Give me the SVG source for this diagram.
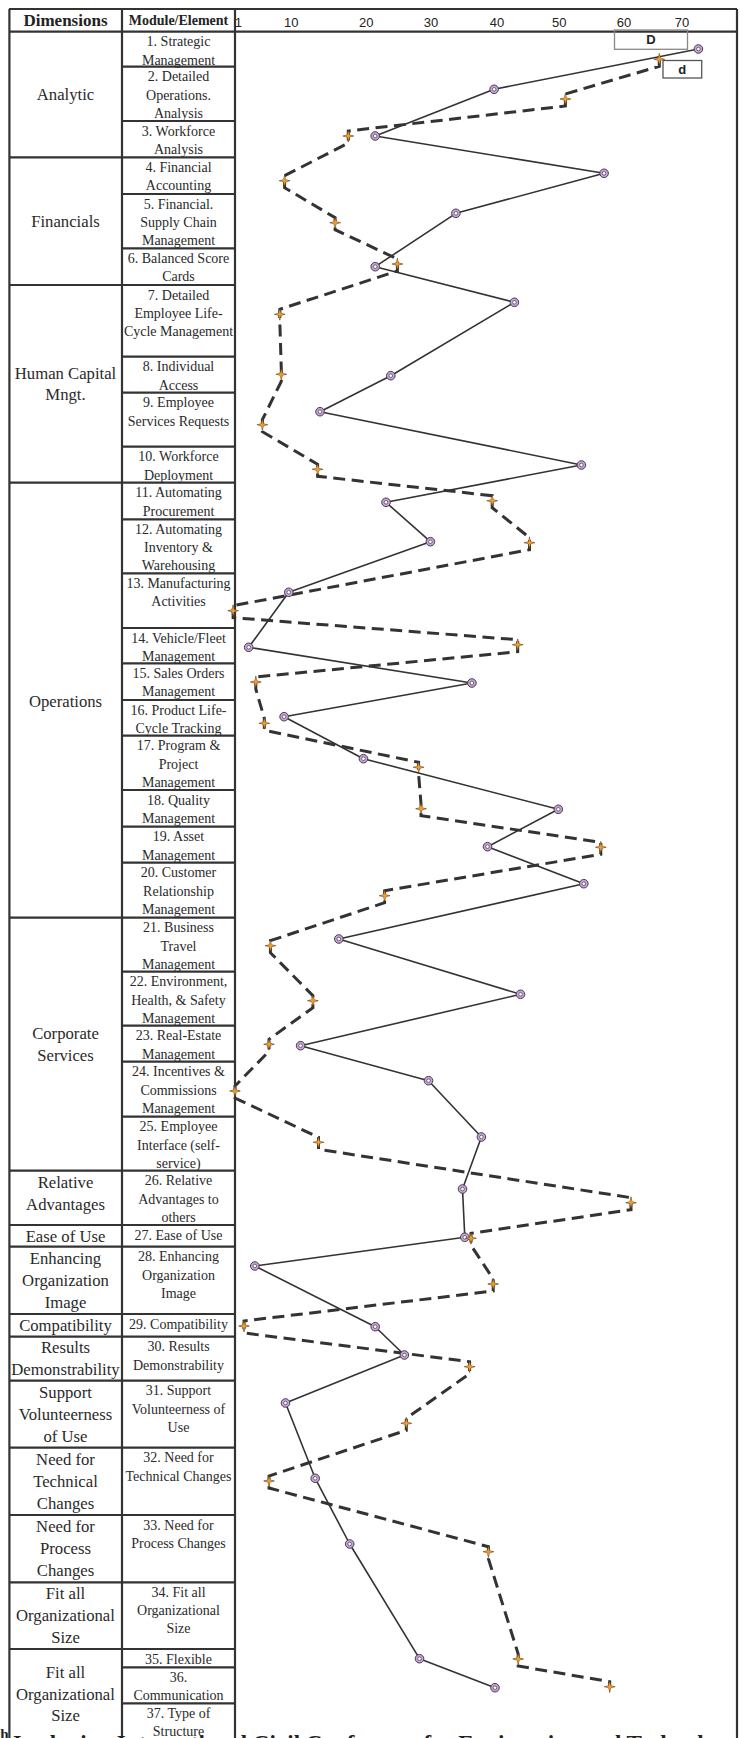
<svg xmlns="http://www.w3.org/2000/svg" xmlns:xlink="http://www.w3.org/1999/xlink" width="740" height="1738" viewBox="0 0 740 1738">
<style>
.gl{stroke:#333;stroke-width:2.2;fill:none}
.dim{font-family:"Liberation Serif","Times New Roman",serif;font-size:16.7px;fill:#2a2a2a;text-anchor:middle}
.mod{font-family:"Liberation Serif","Times New Roman",serif;font-size:14px;fill:#2a2a2a;text-anchor:middle}
.hd{font-family:"Liberation Serif","Times New Roman",serif;font-weight:bold;fill:#222;text-anchor:middle}
.ax{font-family:"Liberation Sans",Arial,sans-serif;font-size:13px;fill:#222;text-anchor:middle}
.lg{font-family:"Liberation Sans",Arial,sans-serif;font-size:13px;font-weight:bold;fill:#222;text-anchor:middle}
.solid{fill:none;stroke:#333;stroke-width:1.6;stroke-linejoin:round}
.dash{fill:none;stroke:#333;stroke-width:3;stroke-dasharray:12 6.5}
.foot{font-family:"Liberation Serif","Times New Roman",serif;font-weight:bold;fill:#222}
</style>
<defs>
<g id="circ"><circle r="4.3" fill="#c4a6d2" stroke="#4a3a55" stroke-width="1"/><circle r="1.8" fill="#fff" stroke="#4a3a55" stroke-width="0.7"/></g>
<g id="star"><path d="M-5.5,0H5.5M0,-6V6" stroke="#333" stroke-width="0.7"/><path d="M0,-5.5 L1.2,-1.2 L5,0 L1.2,1.2 L0,5.5 L-1.2,1.2 L-5,0 L-1.2,-1.2 Z" fill="#f39a2b" stroke="#5a3a14" stroke-width="0.4"/></g>
</defs>
<rect width="740" height="1738" fill="#fff"/>

<g id="grid">
<line class="gl" x1="9" y1="9" x2="737" y2="9"/>
<line class="gl" x1="9" y1="31.7" x2="737" y2="31.7"/>
<line class="gl" x1="9.4" y1="9" x2="9.4" y2="1738"/>
<line class="gl" x1="122" y1="9" x2="122" y2="1738"/>
<line class="gl" x1="235" y1="9" x2="235" y2="1738"/>
<line class="gl" x1="737" y1="9" x2="737" y2="1738"/>
<path class="gl" d="M122,66.7H235M122,121H235M122,157.3H235M122,194H235M122,248.3H235M122,285H235M122,356.7H235M122,392.7H235M122,446.7H235M122,482.7H235M122,519.3H235M122,573.3H235M122,628H235M122,663.3H235M122,700H235M122,735.7H235M122,790H235M122,826.7H235M122,862.7H235M122,917.7H235M122,971.7H235M122,1025.7H235M122,1061.7H235M122,1116.7H235M122,1170.7H235M122,1225H235M122,1246.7H235M122,1314H235M122,1336.7H235M122,1380.7H235M122,1447.7H235M122,1515H235M122,1582.3H235M122,1649H235M122,1667.3H235M122,1703.3H235"/>
<path class="gl" d="M9,157.3H122M9,285H122M9,482.7H122M9,917.7H122M9,1170.7H122M9,1225H122M9,1246.7H122M9,1314H122M9,1336.7H122M9,1380.7H122M9,1447.7H122M9,1515H122M9,1582.3H122M9,1649H122"/>
</g>

<g id="header">
<text class="hd" x="65.5" y="26" font-size="17">Dimensions</text>
<text class="hd" x="178.5" y="24.5" font-size="14">Module/Element</text>
</g>

<g id="axis">
<text class="ax" x="238.3" y="27" text-anchor="start">1</text>
<text class="ax" x="291.2" y="27">10</text>
<text class="ax" x="366.2" y="27">20</text>
<text class="ax" x="430.9" y="27">30</text>
<text class="ax" x="496.9" y="27">40</text>
<text class="ax" x="559.2" y="27">50</text>
<text class="ax" x="623.9" y="27">60</text>
<text class="ax" x="681.9" y="27">70</text>
</g>

<g id="dimensions">
<g id="dim-analytic"><text class="dim" x="65.5" y="100">Analytic</text></g>
<g id="dim-financials"><text class="dim" x="65.5" y="226.5">Financials</text></g>
<g id="dim-hcm"><text class="dim" x="65.5" y="378.5">Human Capital</text><text class="dim" x="65.5" y="399.5">Mngt.</text></g>
<g id="dim-operations"><text class="dim" x="65.5" y="706.5">Operations</text></g>
<g id="dim-corporate"><text class="dim" x="65.5" y="1039">Corporate</text><text class="dim" x="65.5" y="1060.5">Services</text></g>
<g id="dim-relative"><text class="dim" x="65.5" y="1188">Relative</text><text class="dim" x="65.5" y="1209.5">Advantages</text></g>
<g id="dim-ease"><text class="dim" x="65.5" y="1241.5">Ease of Use</text></g>
<g id="dim-enhancing"><text class="dim" x="65.5" y="1264">Enhancing</text><text class="dim" x="65.5" y="1286">Organization</text><text class="dim" x="65.5" y="1307.5">Image</text></g>
<g id="dim-compat"><text class="dim" x="65.5" y="1330.5">Compatibility</text></g>
<g id="dim-results"><text class="dim" x="65.5" y="1353">Results</text><text class="dim" x="65.5" y="1375">Demonstrability</text></g>
<g id="dim-support"><text class="dim" x="65.5" y="1397.5">Support</text><text class="dim" x="65.5" y="1419.7">Volunteerness</text><text class="dim" x="65.5" y="1441.5">of Use</text></g>
<g id="dim-tech"><text class="dim" x="65.5" y="1465">Need for</text><text class="dim" x="65.5" y="1487">Technical</text><text class="dim" x="65.5" y="1509">Changes</text></g>
<g id="dim-process"><text class="dim" x="65.5" y="1532">Need for</text><text class="dim" x="65.5" y="1554">Process</text><text class="dim" x="65.5" y="1575.5">Changes</text></g>
<g id="dim-fit1"><text class="dim" x="65.5" y="1599">Fit all</text><text class="dim" x="65.5" y="1621">Organizational</text><text class="dim" x="65.5" y="1642.5">Size</text></g>
<g id="dim-fit2"><text class="dim" x="65.5" y="1678.3">Fit all</text><text class="dim" x="65.5" y="1700">Organizational</text><text class="dim" x="65.5" y="1720.7">Size</text></g>
</g>

<g id="modules">
<g id="m1"><text class="mod" x="178.5" y="46.2">1. Strategic</text><text class="mod" x="178.5" y="64.5">Management</text></g>
<g id="m2"><text class="mod" x="178.5" y="81.2">2. Detailed</text><text class="mod" x="178.5" y="99.5">Operations.</text><text class="mod" x="178.5" y="117.8">Analysis</text></g>
<g id="m3"><text class="mod" x="178.5" y="135.5">3. Workforce</text><text class="mod" x="178.5" y="153.8">Analysis</text></g>
<g id="m4"><text class="mod" x="178.5" y="171.8">4. Financial</text><text class="mod" x="178.5" y="190.1">Accounting</text></g>
<g id="m5"><text class="mod" x="178.5" y="208.5">5. Financial.</text><text class="mod" x="178.5" y="226.8">Supply Chain</text><text class="mod" x="178.5" y="245.1">Management</text></g>
<g id="m6"><text class="mod" x="178.5" y="262.8">6. Balanced Score</text><text class="mod" x="178.5" y="281.1">Cards</text></g>
<g id="m7"><text class="mod" x="178.5" y="299.5">7. Detailed</text><text class="mod" x="178.5" y="317.8">Employee Life-</text><text class="mod" x="178.5" y="336.1">Cycle Management</text></g>
<g id="m8"><text class="mod" x="178.5" y="371.2">8. Individual</text><text class="mod" x="178.5" y="389.5">Access</text></g>
<g id="m9"><text class="mod" x="178.5" y="407.2">9. Employee</text><text class="mod" x="178.5" y="425.5">Services Requests</text></g>
<g id="m10"><text class="mod" x="178.5" y="461.2">10. Workforce</text><text class="mod" x="178.5" y="479.5">Deployment</text></g>
<g id="m11"><text class="mod" x="178.5" y="497.2">11. Automating</text><text class="mod" x="178.5" y="515.5">Procurement</text></g>
<g id="m12"><text class="mod" x="178.5" y="533.8">12. Automating</text><text class="mod" x="178.5" y="552.1">Inventory &amp;</text><text class="mod" x="178.5" y="570.4">Warehousing</text></g>
<g id="m13"><text class="mod" x="178.5" y="587.8">13. Manufacturing</text><text class="mod" x="178.5" y="606.1">Activities</text></g>
<g id="m14"><text class="mod" x="178.5" y="642.5">14. Vehicle/Fleet</text><text class="mod" x="178.5" y="660.8">Management</text></g>
<g id="m15"><text class="mod" x="178.5" y="677.8">15. Sales Orders</text><text class="mod" x="178.5" y="696.1">Management</text></g>
<g id="m16"><text class="mod" x="178.5" y="714.5">16. Product Life-</text><text class="mod" x="178.5" y="732.8">Cycle Tracking</text></g>
<g id="m17"><text class="mod" x="178.5" y="750.2">17. Program &amp;</text><text class="mod" x="178.5" y="768.5">Project</text><text class="mod" x="178.5" y="786.8">Management</text></g>
<g id="m18"><text class="mod" x="178.5" y="804.5">18. Quality</text><text class="mod" x="178.5" y="822.8">Management</text></g>
<g id="m19"><text class="mod" x="178.5" y="841.2">19. Asset</text><text class="mod" x="178.5" y="859.5">Management</text></g>
<g id="m20"><text class="mod" x="178.5" y="877.2">20. Customer</text><text class="mod" x="178.5" y="895.5">Relationship</text><text class="mod" x="178.5" y="913.8">Management</text></g>
<g id="m21"><text class="mod" x="178.5" y="932.2">21. Business</text><text class="mod" x="178.5" y="950.5">Travel</text><text class="mod" x="178.5" y="968.8">Management</text></g>
<g id="m22"><text class="mod" x="178.5" y="986.2">22. Environment,</text><text class="mod" x="178.5" y="1004.5">Health, &amp; Safety</text><text class="mod" x="178.5" y="1022.8">Management</text></g>
<g id="m23"><text class="mod" x="178.5" y="1040.2">23. Real-Estate</text><text class="mod" x="178.5" y="1058.5">Management</text></g>
<g id="m24"><text class="mod" x="178.5" y="1076.2">24. Incentives &amp;</text><text class="mod" x="178.5" y="1094.5">Commissions</text><text class="mod" x="178.5" y="1112.8">Management</text></g>
<g id="m25"><text class="mod" x="178.5" y="1131.2">25. Employee</text><text class="mod" x="178.5" y="1149.5">Interface (self-</text><text class="mod" x="178.5" y="1167.8">service)</text></g>
<g id="m26"><text class="mod" x="178.5" y="1185.2">26. Relative</text><text class="mod" x="178.5" y="1203.5">Advantages to</text><text class="mod" x="178.5" y="1221.8">others</text></g>
<g id="m27"><text class="mod" x="178.5" y="1239.5">27. Ease of Use</text></g>
<g id="m28"><text class="mod" x="178.5" y="1261.2">28. Enhancing</text><text class="mod" x="178.5" y="1279.5">Organization</text><text class="mod" x="178.5" y="1297.8">Image</text></g>
<g id="m29"><text class="mod" x="178.5" y="1328.5">29. Compatibility</text></g>
<g id="m30"><text class="mod" x="178.5" y="1351.2">30. Results</text><text class="mod" x="178.5" y="1369.5">Demonstrability</text></g>
<g id="m31"><text class="mod" x="178.5" y="1395.2">31. Support</text><text class="mod" x="178.5" y="1413.5">Volunteerness of</text><text class="mod" x="178.5" y="1431.8">Use</text></g>
<g id="m32"><text class="mod" x="178.5" y="1462.2">32. Need for</text><text class="mod" x="178.5" y="1480.5">Technical Changes</text></g>
<g id="m33"><text class="mod" x="178.5" y="1529.5">33. Need for</text><text class="mod" x="178.5" y="1547.8">Process Changes</text></g>
<g id="m34"><text class="mod" x="178.5" y="1596.8">34. Fit all</text><text class="mod" x="178.5" y="1615.1">Organizational</text><text class="mod" x="178.5" y="1633.4">Size</text></g>
<g id="m35"><text class="mod" x="178.5" y="1663.5">35. Flexible</text></g>
<g id="m36"><text class="mod" x="178.5" y="1681.8">36.</text><text class="mod" x="178.5" y="1700.1">Communication</text></g>
<g id="m37"><text class="mod" x="178.5" y="1717.8">37. Type of</text><text class="mod" x="178.5" y="1736.1">Structure</text></g>
</g>

<g id="legend">
<g id="legend-D"><rect x="614.5" y="30" width="73" height="19.3" fill="none" stroke="#888" stroke-width="1.3"/><text class="lg" x="651" y="44">D</text></g>
<g id="legend-d"><rect x="663" y="60.5" width="38.7" height="17.5" fill="#fff" stroke="#555" stroke-width="1.3"/><text class="lg" x="682.3" y="74">d</text></g>
</g>

<g id="connectors">
<path id="series-D" class="solid" d="M698.4,49 L494.1,89.3 L375.2,136 L604.1,173.3 L455.9,213.3 L375.2,266.7 L514.4,302.3 L390.8,375.7 L320,411.7 L581.4,465 L386,502.3 L430.4,541.7 L288.8,592.3 L248.7,647.3 L471.9,683 L284.1,716.7 L363.4,758.7 L558.3,809.3 L487.5,846.7 L583.8,883.7 L338.8,939 L520.5,994.3 L300.6,1045.7 L428.5,1080.7 L481.4,1137 L462.5,1189 L464.8,1237.3 L254.8,1266 L375.2,1326.7 L404.4,1355 L285.5,1403 L315.2,1478.3 L349.7,1544 L419.5,1658.7 L495,1687.7"/>
<path id="series-d" class="dash" d="M659.3,59.3 L659.3,66.3 L565.4,94 L565.4,106 L348.3,131 L348.3,143 L284.6,175.7 L284.6,187.7 L335.1,217.7 L335.1,229.7 L397.4,259 L397.4,271 L279.8,309.3 L279.8,321.3 L281.3,369.3 L281.3,381.3 L262.4,419.7 L262.4,431.7 L317.6,464.3 L317.6,476.3 L492.2,495.7 L492.2,507.7 L529.5,537.7 L529.5,549.7 L233.1,605.7 L233.1,617.7 L517.7,639.7 L517.7,651.7 L255.8,677 L255.8,689 L264.3,718.3 L264.3,730.3 L418.6,762.3 L418.6,774.3 L421,803.7 L421,815.7 L600.8,842.3 L600.8,854.3 L384.6,890.7 L384.6,902.7 L270.4,940.7 L270.4,952.7 L312.9,995.7 L312.9,1007.7 L269,1039.3 L269,1051.3 L235,1086 L235,1098 L318.5,1137.3 L318.5,1149.3 L631,1197.7 L631,1209.7 L471,1233.3 L471,1245.3 L493.2,1279 L493.2,1291 L244,1321 L244,1333 L469.6,1361.7 L469.6,1373.7 L406.3,1418.3 L406.3,1430.3 L269,1476 L269,1488 L488.4,1546.7 L488.4,1558.7 L518.2,1654 L518.2,1666 L609.7,1681.7 L609.7,1686.7"/>
</g>

<g id="markers-D">
<use xlink:href="#circ" x="698.4" y="49"/><use xlink:href="#circ" x="494.1" y="89.3"/><use xlink:href="#circ" x="375.2" y="136"/><use xlink:href="#circ" x="604.1" y="173.3"/><use xlink:href="#circ" x="455.9" y="213.3"/><use xlink:href="#circ" x="375.2" y="266.7"/><use xlink:href="#circ" x="514.4" y="302.3"/><use xlink:href="#circ" x="390.8" y="375.7"/><use xlink:href="#circ" x="320" y="411.7"/><use xlink:href="#circ" x="581.4" y="465"/><use xlink:href="#circ" x="386" y="502.3"/><use xlink:href="#circ" x="430.4" y="541.7"/><use xlink:href="#circ" x="288.8" y="592.3"/><use xlink:href="#circ" x="248.7" y="647.3"/><use xlink:href="#circ" x="471.9" y="683"/><use xlink:href="#circ" x="284.1" y="716.7"/><use xlink:href="#circ" x="363.4" y="758.7"/><use xlink:href="#circ" x="558.3" y="809.3"/><use xlink:href="#circ" x="487.5" y="846.7"/><use xlink:href="#circ" x="583.8" y="883.7"/><use xlink:href="#circ" x="338.8" y="939"/><use xlink:href="#circ" x="520.5" y="994.3"/><use xlink:href="#circ" x="300.6" y="1045.7"/><use xlink:href="#circ" x="428.5" y="1080.7"/><use xlink:href="#circ" x="481.4" y="1137"/><use xlink:href="#circ" x="462.5" y="1189"/><use xlink:href="#circ" x="464.8" y="1237.3"/><use xlink:href="#circ" x="254.8" y="1266"/><use xlink:href="#circ" x="375.2" y="1326.7"/><use xlink:href="#circ" x="404.4" y="1355"/><use xlink:href="#circ" x="285.5" y="1403"/><use xlink:href="#circ" x="315.2" y="1478.3"/><use xlink:href="#circ" x="349.7" y="1544"/><use xlink:href="#circ" x="419.5" y="1658.7"/><use xlink:href="#circ" x="495" y="1687.7"/>
</g>

<g id="markers-d">
<use xlink:href="#star" x="659.3" y="59.3"/><use xlink:href="#star" x="565.4" y="99"/><use xlink:href="#star" x="348.3" y="136"/><use xlink:href="#star" x="284.6" y="180.7"/><use xlink:href="#star" x="335.1" y="222.7"/><use xlink:href="#star" x="397.4" y="264"/><use xlink:href="#star" x="279.8" y="314.3"/><use xlink:href="#star" x="281.3" y="374.3"/><use xlink:href="#star" x="262.4" y="424.7"/><use xlink:href="#star" x="317.6" y="469.3"/><use xlink:href="#star" x="492.2" y="500.7"/><use xlink:href="#star" x="529.5" y="542.7"/><use xlink:href="#star" x="233.1" y="610.7"/><use xlink:href="#star" x="517.7" y="644.7"/><use xlink:href="#star" x="255.8" y="682"/><use xlink:href="#star" x="264.3" y="723.3"/><use xlink:href="#star" x="418.6" y="767.3"/><use xlink:href="#star" x="421" y="808.7"/><use xlink:href="#star" x="600.8" y="847.3"/><use xlink:href="#star" x="384.6" y="895.7"/><use xlink:href="#star" x="270.4" y="945.7"/><use xlink:href="#star" x="312.9" y="1000.7"/><use xlink:href="#star" x="269" y="1044.3"/><use xlink:href="#star" x="235" y="1091"/><use xlink:href="#star" x="318.5" y="1142.3"/><use xlink:href="#star" x="631" y="1202.7"/><use xlink:href="#star" x="471" y="1238.3"/><use xlink:href="#star" x="493.2" y="1284"/><use xlink:href="#star" x="244" y="1326"/><use xlink:href="#star" x="469.6" y="1366.7"/><use xlink:href="#star" x="406.3" y="1423.3"/><use xlink:href="#star" x="269" y="1481"/><use xlink:href="#star" x="488.4" y="1551.7"/><use xlink:href="#star" x="518.2" y="1659"/><use xlink:href="#star" x="609.7" y="1686.7"/>
</g>

<g id="footer">
<text class="foot" x="8.5" y="1739" font-size="15" text-anchor="end">th</text>
<text class="foot" x="10" y="1751" font-size="23">Jordanian International Civil Conference for Engineering and Technology</text>
</g>
</svg>
